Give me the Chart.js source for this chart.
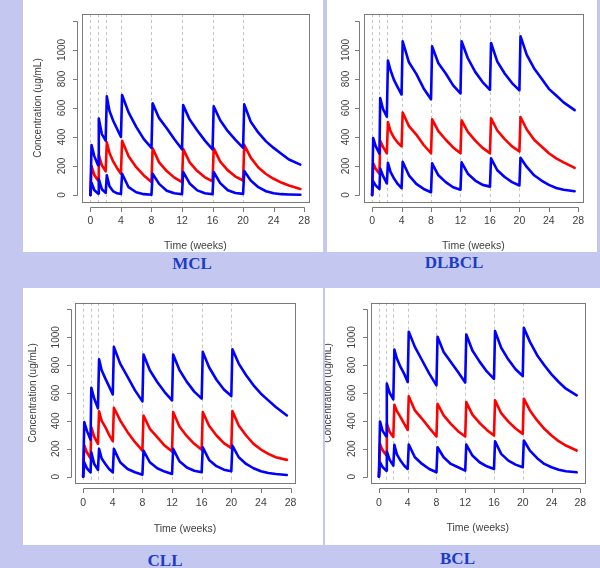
<!DOCTYPE html>
<html>
<head>
<meta charset="utf-8">
<script src="https://cdn.jsdelivr.net/npm/chart.js@4.4.1/dist/chart.umd.min.js"></script>
<style>
  html, body { margin:0; padding:0; }
  body { width:600px; height:568px; background:#c4c8f0; position:relative; overflow:hidden; }
  .panel { position:absolute; background:#ffffff; }
  .panel canvas { position:absolute; left:0; top:0; }
  .lbl { position:absolute; width:200px; text-align:center; font-family:"Liberation Serif","Times New Roman",serif;
         font-weight:bold; font-size:17px; line-height:17px; color:#1a3cc8; }
</style>
</head>
<body>
<script>
// ---------------- data ----------------
const weeks = [0, 0.15, 0.5, 1, 1.1, 1.5, 2, 2.15, 2.5, 3, 3.5, 4, 4.15, 5, 6, 7, 8, 8.15, 9, 10, 11, 12,
               12.15, 13, 14, 15, 16, 16.15, 17, 18, 19, 20, 20.15, 21, 22, 23, 24, 25, 26, 27.5];
const doseWeeks = [0, 1, 2, 4, 8, 12, 16, 20];
const xTickValues = [0, 4, 8, 12, 16, 20, 24, 28];
const yTickValues = [0, 200, 400, 600, 800, 1000, 1200];
const panelNames = ['MCL', 'DLBCL', 'CLL', 'BCL'];
const xAxisTitle = 'Time (weeks)';
const yAxisTitle = 'Concentration (ug/mL)';

const mclUpper  = [0, 345, 270, 205, 527, 420, 375, 680, 580, 510, 455, 400, 690, 570, 470, 385, 325, 632, 530, 460, 385, 315, 620, 520, 445, 375, 315, 612, 515, 440, 380, 325, 625, 505, 430, 370, 325, 285, 245, 210];
const mclMedian = [0, 200, 140, 100, 276, 205, 164, 363, 290, 230, 185, 147, 374, 268, 192, 135, 90, 323, 225, 165, 120, 89, 318, 225, 165, 122, 94, 323, 230, 170, 127, 100, 346, 258, 190, 145, 112, 86, 66, 42];
const mclLower  = [0, 85, 35, 10, 110, 40, 15, 136, 60, 25, 12, 7, 147, 54, 19, 6, 2, 147, 77, 30, 12, 6, 159, 80, 32, 12, 5, 159, 82, 33, 14, 8, 166, 100, 54, 26, 12, 6, 4, 2];

const dlbclUpper  = [0, 393, 335, 285, 669, 590, 540, 927, 860, 790, 740, 693, 1060, 915, 835, 735, 660, 1025, 908, 838, 756, 700, 1060, 943, 849, 779, 725, 1048, 920, 838, 772, 721, 1095, 966, 873, 803, 732, 686, 639, 585];
const dlbclMedian = [0, 218, 180, 147, 374, 330, 288, 503, 440, 393, 360, 335, 569, 475, 417, 345, 288, 522, 440, 381, 328, 288, 515, 435, 375, 325, 288, 529, 445, 385, 335, 300, 538, 452, 381, 335, 288, 253, 225, 187];
const dlbclLower  = [0, 94, 65, 42, 183, 130, 80, 222, 160, 112, 75, 47, 229, 136, 77, 42, 19, 218, 136, 89, 54, 37, 225, 147, 100, 70, 58, 253, 171, 124, 89, 66, 257, 194, 136, 100, 70, 49, 37, 26];

const cllUpper  = [0, 391, 330, 265, 638, 559, 490, 842, 763, 703, 648, 590, 931, 811, 715, 619, 540, 876, 763, 679, 607, 547, 876, 765, 680, 610, 560, 895, 785, 695, 625, 578, 914, 811, 727, 655, 595, 547, 499, 439];
const cllMedian = [0, 223, 175, 132, 355, 285, 235, 468, 400, 355, 300, 254, 494, 403, 319, 247, 187, 439, 343, 283, 223, 180, 463, 360, 290, 235, 192, 463, 365, 295, 240, 205, 470, 367, 295, 235, 194, 163, 139, 120];
const cllLower  = [0, 103, 60, 31, 175, 90, 48, 199, 130, 91, 55, 31, 199, 103, 55, 31, 14, 187, 103, 60, 36, 19, 199, 110, 65, 42, 31, 211, 120, 75, 50, 38, 223, 139, 91, 60, 38, 26, 19, 12];

const bclUpper  = [0, 396, 330, 290, 667, 600, 555, 912, 847, 787, 739, 679, 1039, 931, 835, 739, 655, 1003, 895, 823, 751, 675, 1020, 905, 825, 755, 702, 1044, 925, 840, 770, 722, 1068, 967, 871, 799, 734, 679, 631, 583];
const bclMedian = [0, 235, 190, 155, 379, 320, 285, 516, 470, 427, 380, 336, 576, 475, 415, 350, 288, 523, 439, 379, 326, 288, 535, 445, 385, 335, 295, 547, 455, 395, 345, 307, 559, 475, 403, 343, 295, 254, 223, 187];
const bclLower  = [0, 103, 70, 43, 180, 120, 79, 228, 160, 115, 80, 55, 230, 139, 91, 55, 31, 211, 139, 91, 67, 43, 230, 151, 103, 74, 55, 254, 163, 115, 86, 67, 259, 187, 132, 91, 67, 50, 38, 31];

const seriesByPanel = [
  [mclUpper, mclMedian, mclLower],
  [dlbclUpper, dlbclMedian, dlbclLower],
  [cllUpper, cllMedian, cllLower],
  [bclUpper, bclMedian, bclLower]
];

// ---------------- layout (positions / styles) ----------------
const layoutCfg = [
  {left:23,  top:0,   w:300, h:252, ca:{l:59, r:286, t:14,   b:202},   yAxisOff:4.7, yLabelDist:20,   yTitle:true,  yTitleX:15.3,
   xAxisOff:5.3, xTickPad:12.7, xTitleFromBottom:5.5,  labelCx:192,   labelTop:255},
  {left:327, top:0,   w:270, h:252, ca:{l:37, r:263, t:14,   b:202},   yAxisOff:5.0, yLabelDist:17.7, yTitle:false, yTitleX:0,
   xAxisOff:5.3, xTickPad:12.7, xTitleFromBottom:5.5,  labelCx:454,   labelTop:254.4},
  {left:23,  top:288, w:300, h:257, ca:{l:52, r:272, t:14.7, b:195.3}, yAxisOff:4.3, yLabelDist:18.3, yTitle:true,  yTitleX:10.3,
   xAxisOff:5.0, xTickPad:13.4, xTitleFromBottom:15.7, labelCx:165,   labelTop:552.4},
  {left:325, top:288, w:275, h:257, ca:{l:46, r:266, t:14.7, b:195.3}, yAxisOff:4.3, yLabelDist:18.7, yTitle:true,  yTitleX:3.3,
   xAxisOff:4.7, xTickPad:13.7, xTitleFromBottom:17,   labelCx:457.5, labelTop:550}
];

const AXIS_COLOR = '#7a7a7a';
const TEXT_COLOR = '#404040';
const FONT_FAMILY = '"Liberation Sans", Arial, sans-serif';

Chart.defaults.font.family = FONT_FAMILY;
Chart.defaults.color = TEXT_COLOR;

const rStyle = {
  id: 'rStyle',
  beforeDatasetsDraw(chart) {
    const {ctx, chartArea: a, scales: {x}} = chart;
    ctx.save();
    ctx.strokeStyle = '#c4c4c4';
    ctx.lineWidth = 1;
    ctx.setLineDash([3, 3]);
    doseWeeks.forEach(d => {
      const px = Math.round(x.getPixelForValue(d)) + 0.5;
      ctx.beginPath(); ctx.moveTo(px, a.top); ctx.lineTo(px, a.bottom); ctx.stroke();
    });
    ctx.restore();
  },
  afterDraw(chart, args, opts) {
    const {ctx, chartArea: a, scales: {x, y}} = chart;
    ctx.save();
    ctx.strokeStyle = AXIS_COLOR;
    ctx.lineWidth = 1;
    ctx.setLineDash([]);
    // plot box
    const L = Math.round(a.left) + 0.5, R = Math.round(a.right) + 0.5;
    const T = Math.round(a.top) + 0.5, B = Math.round(a.bottom) + 0.5;
    ctx.strokeRect(L, T, R - L, B - T);
    // x axis (R style, detached)
    const ay = Math.round(a.bottom + opts.xAxisOff) + 0.5;
    const xs = x.ticks.map(t => Math.round(x.getPixelForValue(t.value)) + 0.5);
    ctx.beginPath();
    ctx.moveTo(xs[0], ay); ctx.lineTo(xs[xs.length - 1], ay);
    xs.forEach(px => { ctx.moveTo(px, ay); ctx.lineTo(px, ay + 4.5); });
    ctx.stroke();
    // y axis
    const ax = Math.round(a.left - opts.yAxisOff) + 0.5;
    const ys = y.ticks.map(t => Math.round(y.getPixelForValue(t.value)) + 0.5);
    ctx.beginPath();
    ctx.moveTo(ax, ys[0]); ctx.lineTo(ax, ys[ys.length - 1]);
    ys.forEach(py => { ctx.moveTo(ax, py); ctx.lineTo(ax - 4.5, py); });
    ctx.stroke();
    // y tick labels, rotated parallel to the axis (R default)
    ctx.fillStyle = TEXT_COLOR;
    ctx.font = '10px ' + FONT_FAMILY;
    ctx.textAlign = 'center';
    ctx.textBaseline = 'middle';
    const cx = a.left - opts.yLabelDist;
    y.ticks.forEach(t => {
      const label = String(t.label || '');
      if (!label) return;
      ctx.save();
      ctx.translate(cx, y.getPixelForValue(t.value));
      ctx.rotate(-Math.PI / 2);
      ctx.fillText(label, 0, 0);
      ctx.restore();
    });
    ctx.restore();
  }
};

function toPoints(vals) { return weeks.map((w, i) => ({x: w, y: vals[i]})); }

panelNames.forEach((name, i) => {
  const g = layoutCfg[i];
  const [upper, median, lower] = seriesByPanel[i];

  const div = document.createElement('div');
  div.className = 'panel';
  div.style.left = g.left + 'px'; div.style.top = g.top + 'px';
  div.style.width = g.w + 'px'; div.style.height = g.h + 'px';
  const cv = document.createElement('canvas');
  cv.width = g.w; cv.height = g.h;
  cv.style.width = g.w + 'px'; cv.style.height = g.h + 'px';
  div.appendChild(cv);
  document.body.appendChild(div);

  const lbl = document.createElement('div');
  lbl.className = 'lbl';
  lbl.textContent = name;
  lbl.style.left = (g.labelCx - 100) + 'px';
  lbl.style.top = g.labelTop + 'px';
  document.body.appendChild(lbl);

  const lineStyle = (color) => ({
    borderColor: color, backgroundColor: color, borderWidth: 2.6, pointRadius: 0,
    tension: 0, fill: false, borderJoinStyle: 'round', borderCapStyle: 'round'
  });

  new Chart(cv, {
    type: 'line',
    data: {
      datasets: [
        Object.assign({label: name + ' upper', data: toPoints(upper), order: 1}, lineStyle('#0000ff')),
        Object.assign({label: name + ' median', data: toPoints(median), order: 3}, lineStyle('#ff0000')),
        Object.assign({label: name + ' lower', data: toPoints(lower), order: 2}, lineStyle('#0000ff'))
      ]
    },
    options: {
      responsive: false,
      animation: false,
      devicePixelRatio: 1,
      events: [],
      layout: { padding: { left: 0, top: g.ca.t, right: g.w - g.ca.r, bottom: 0 } },
      plugins: {
        legend: { display: false },
        tooltip: { enabled: false },
        rStyle: { xAxisOff: g.xAxisOff, yAxisOff: g.yAxisOff, yLabelDist: g.yLabelDist }
      },
      scales: {
        x: {
          type: 'linear', min: -1.1, max: 28.6,
          grid: { display: false, drawTicks: false }, border: { display: false },
          afterBuildTicks: (s) => { s.ticks = xTickValues.map(v => ({value: v})); },
          afterFit: (s) => { s.height = g.h - g.ca.b; },
          ticks: { autoSkip: false, maxRotation: 0, minRotation: 0, padding: g.xTickPad,
                   font: { size: 10.5 }, color: TEXT_COLOR, callback: (v) => String(v) },
          title: { display: true, text: xAxisTitle, color: TEXT_COLOR, font: { size: 10.5 },
                   padding: { top: 0, bottom: g.xTitleFromBottom - 6.3 } }
        },
        y: {
          type: 'linear', min: -48, max: 1248,
          grid: { display: false, drawTicks: false }, border: { display: false },
          afterBuildTicks: (s) => { s.ticks = yTickValues.map(v => ({value: v})); },
          afterFit: (s) => { s.width = g.ca.l; },
          ticks: { display: false, autoSkip: false,
                   callback: (v) => (v === 1200 ? '' : String(v)) },
          title: { display: g.yTitle, text: yAxisTitle, color: TEXT_COLOR, font: { size: 10 },
                   padding: { top: g.yTitleX - 6, bottom: 0 } }
        }
      }
    },
    plugins: [rStyle]
  });
});
</script>
</body>
</html>
